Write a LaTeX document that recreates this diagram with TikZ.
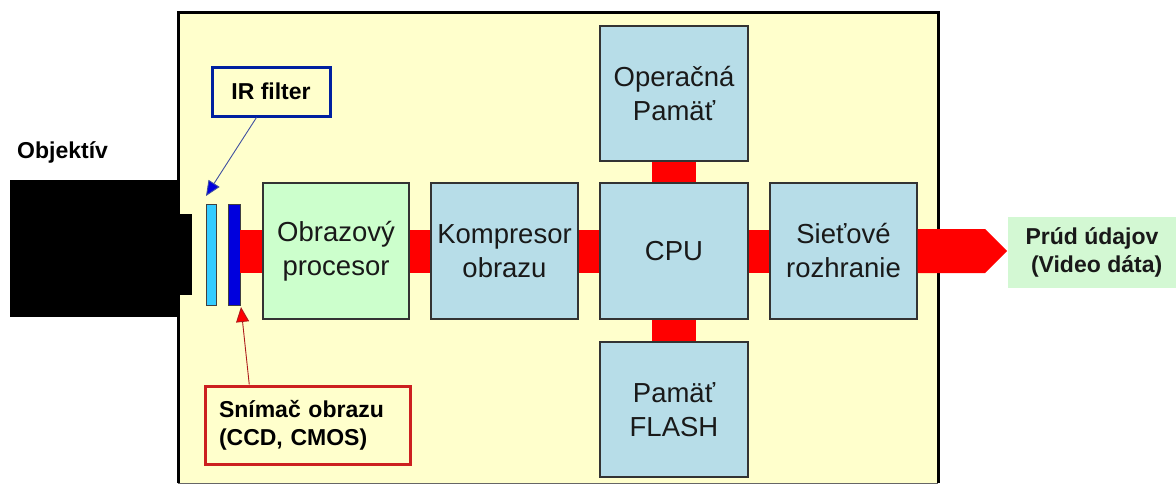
\documentclass[tikz,border=0pt]{standalone}
\usepackage{fontspec}
\setmainfont{Liberation Sans}
\usetikzlibrary{calc,arrows.meta}
\definecolor{bgyellow}{HTML}{FFFFCC}
\definecolor{boxblue}{HTML}{B7DDE8}
\definecolor{boxgreen}{HTML}{CCFFCC}
\definecolor{labgreen}{HTML}{D3F8D3}
\definecolor{irblue}{HTML}{33CCFF}
\definecolor{sensblue}{HTML}{0000DD}
\definecolor{labblue}{HTML}{0020A0}
\definecolor{arrblue}{HTML}{4050A0}
\definecolor{labred}{HTML}{CC2020}
\definecolor{busred}{HTML}{FF0000}
\begin{document}
\begin{tikzpicture}[x=1pt,y=-1pt,
  blockbox/.style={draw=black!80, line width=1.1pt, fill=boxblue, minimum width=147pt, minimum height=136pt, inner sep=0pt, align=center, font=\fontsize{27.5}{34}\selectfont, text=black!90},
  bus/.style={fill=busred},
  labelbox/.style={line width=3pt, inner sep=0pt, font=\bfseries\fontsize{23}{28}\selectfont},
  boldtext/.style={font=\bfseries\fontsize{23}{28}\selectfont, inner sep=0pt}]
\useasboundingbox (0,0) rectangle (1176,485);
% housing
\fill[bgyellow] (178,12) rectangle (938,483);
\draw[black!60, line width=1pt] (178,483) -- (938,483);
\draw[black, line width=3pt] (178,483) -- (178,12) -- (938,12) -- (938,483);
% lens
\fill[black] (10,180) rectangle (178,317);
\fill[black] (176,214) rectangle (192,295);
\node[boldtext, anchor=base west] (obj) at (17,158) {Objektív};
% filters
\node[fill=irblue, draw=black!75, line width=0.8pt, minimum width=10pt, minimum height=101pt, inner sep=0pt] (ir) at (211,254.5) {};
\node[fill=sensblue, draw=black!75, line width=0.8pt, minimum width=12pt, minimum height=101pt, inner sep=0pt] (sens) at (234,254.5) {};
% blocks
\node[blockbox, fill=boxgreen, minimum width=146pt] (proc) at (336,251) {Obrazový\\procesor};
\node[blockbox] (komp) at (504.5,251) {Kompresor\\obrazu};
\node[blockbox, minimum width=148pt] (cpu) at (674,251) {CPU};
\node[blockbox, minimum width=148pt, minimum height=135pt] (ram) at (674,93.5) {Operačná\\Pamäť};
\node[blockbox, minimum width=148pt, minimum height=135pt] (flash) at (674,409.5) {Pamäť\\FLASH};
\node[blockbox] (net) at (843.5,251) {Sieťové\\rozhranie};
% buses
\fill[bus] ($(sens.east |- proc.west)+(0,21.5pt)$) rectangle ($(proc.west)+(0,-21.5pt)$);
\fill[bus] ($(proc.east)+(0,21.5pt)$) rectangle ($(komp.west)+(0,-21.5pt)$);
\fill[bus] ($(komp.east)+(0,21.5pt)$) rectangle ($(cpu.west)+(0,-21.5pt)$);
\fill[bus] ($(cpu.east)+(0,21.5pt)$) rectangle ($(net.west)+(0,-21.5pt)$);
\fill[bus] ($(ram.south)+(-22pt,0)$) rectangle ($(cpu.north)+(22pt,0)$);
\fill[bus] ($(cpu.south)+(-22pt,0)$) rectangle ($(flash.north)+(22pt,0)$);
% output
\node[fill=labgreen, minimum width=168pt, minimum height=71pt, inner sep=0pt, align=center, font=\bfseries\fontsize{23}{28}\selectfont, text=black!90] (out) at (1092,252.5) {Prúd údajov\\\hspace*{0.4em}(Video dáta)};
\coordinate (tip) at (1007,251);
\fill[bus] ($(net.east)+(0,22pt)$) -- (985,229) -- (tip) -- (985,273) -- ($(net.east)+(0,-22pt)$) -- cycle;
% labels
\node[labelbox, draw=labblue, minimum width=118pt, minimum height=49pt] (irlab) at (271,91.5) {IR filter};
\node[labelbox, draw=labred, minimum width=205pt, minimum height=78pt, text width=177pt, align=left] (snlab) at (307.5,425) {Snímač obrazu\\(CCD, CMOS)};
\coordinate (irtip) at (206,196);
\coordinate (sntip) at (241,307);
\draw[arrblue, line width=0.9pt, -{Triangle[length=15pt,width=13pt,fill=sensblue]}] ($(irlab.south west)!0.38!(irlab.south east)$) -- (irtip);
\draw[labred!85!black, line width=0.9pt, -{Triangle[length=15pt,width=13pt,fill=busred]}] ($(snlab.north west)!0.22!(snlab.north east)$) -- (sntip);
\end{tikzpicture}
\end{document}
